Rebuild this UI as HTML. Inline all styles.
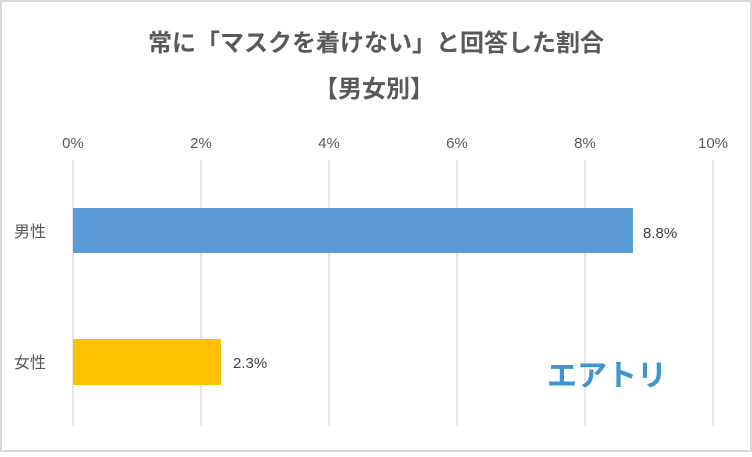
<!DOCTYPE html>
<html><head><meta charset="utf-8"><style>
body{margin:0;width:752px;height:452px;overflow:hidden;background:#fff}
svg text{font-family:"Liberation Sans","Noto Sans CJK JP",sans-serif}
</style></head><body>
<svg width="752" height="452" xmlns="http://www.w3.org/2000/svg">
<rect x="1" y="1" width="750" height="450" fill="#fff" stroke="#d9d9d9" stroke-width="2"/>
<text x="376" y="51" text-anchor="middle" font-size="24" font-weight="bold" fill="#595959">常に「マスクを着けない」と回答した割合</text>
<text x="374" y="97" text-anchor="middle" font-size="24" font-weight="bold" fill="#595959">【男女別】</text>
<g stroke="#d9d9d9" stroke-width="1.3">
<line x1="73" y1="160" x2="73" y2="426"/><line x1="201" y1="160" x2="201" y2="426"/>
<line x1="329" y1="160" x2="329" y2="426"/><line x1="457" y1="160" x2="457" y2="426"/>
<line x1="585" y1="160" x2="585" y2="426"/><line x1="713" y1="160" x2="713" y2="426"/>
</g>
<g font-size="15" fill="#595959" text-anchor="middle">
<text x="73" y="148">0%</text><text x="201" y="148">2%</text><text x="329" y="148">4%</text>
<text x="457" y="148">6%</text><text x="585" y="148">8%</text><text x="713" y="148">10%</text>
</g>
<rect x="73" y="208" width="560" height="45" fill="#5b9bd5"/>
<rect x="73" y="339" width="148" height="46" fill="#ffc000"/>
<g font-size="16" fill="#595959">
<text x="14" y="237">男性</text><text x="14" y="368">女性</text>
</g>
<g font-size="15" fill="#404040">
<text x="643" y="238">8.8%</text><text x="233" y="368">2.3%</text>
</g>
<text x="607" y="386" text-anchor="middle" font-size="30" font-weight="bold" fill="#3f95cf">エアトリ</text>
</svg>
</body></html>
